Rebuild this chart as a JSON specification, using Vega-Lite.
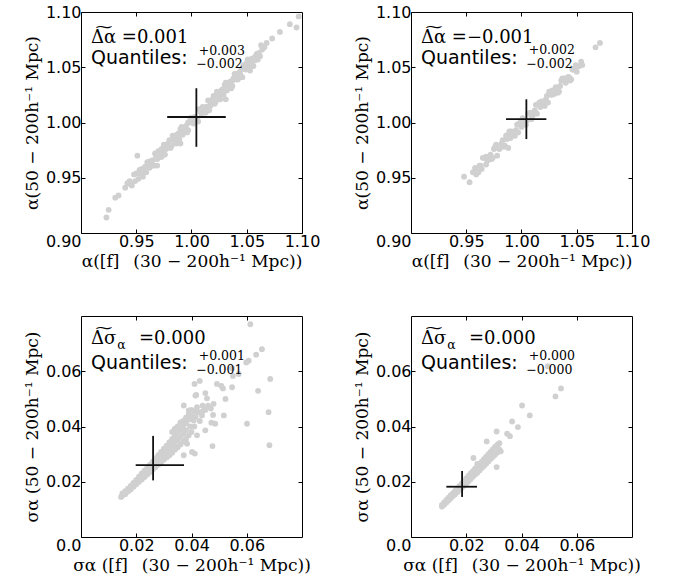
{
"$schema":"https://vega.github.io/schema/vega-lite/v6.json",
"background":"white",
"padding":{"left":22,"top":3,"right":0,"bottom":0},
"bounds":"flush",
"columns":2,
"spacing":{"row":83,"column":109},
"config":{
 "view":{"stroke":"#000","strokeWidth":1},
 "axis":{"grid":false,"domain":false,"tickColor":"#000","tickSize":-4,"tickWidth":1,"labelFont":"DejaVu Sans","labelFontSize":16,"labelColor":"#000","labelPadding":4,"titleFont":"DejaVu Serif","titleFontSize":17,"titleFontWeight":"normal","titleColor":"#000"}
},
"concat":[
{"width":221,"height":221,"layer":[
 {"data":{"values":[
  {"x":0.923,"y":0.914},{"x":0.925,"y":0.921},{"x":0.931,"y":0.932},{"x":0.934,"y":0.934},{"x":0.940,"y":0.941},{"x":0.942,"y":0.945},{"x":0.944,"y":0.947},{"x":0.946,"y":0.943},{"x":0.948,"y":0.953},{"x":0.951,"y":0.970},{"x":0.957,"y":0.956},{"x":0.969,"y":0.961},{"x":0.990,"y":0.981},{"x":1.031,"y":1.021},
  {"x":0.945,"y":0.944},{"x":0.949,"y":0.947},{"x":0.955,"y":0.958},{"x":0.953,"y":0.957},{"x":0.959,"y":0.955},
  {"x":0.950,"y":0.954},{"x":0.952,"y":0.949},{"x":0.954,"y":0.954},{"x":0.956,"y":0.951},{"x":0.958,"y":0.960},{"x":0.960,"y":0.964},{"x":0.962,"y":0.959},{"x":0.964,"y":0.964},{"x":0.966,"y":0.961},{"x":0.968,"y":0.970},{"x":0.970,"y":0.974},{"x":0.972,"y":0.969},{"x":0.974,"y":0.974},{"x":0.976,"y":0.971},{"x":0.978,"y":0.980},{"x":0.980,"y":0.984},{"x":0.982,"y":0.979},{"x":0.984,"y":0.984},{"x":0.986,"y":0.981},{"x":0.988,"y":0.990},{"x":0.990,"y":0.994},{"x":0.992,"y":0.989},{"x":0.994,"y":0.994},{"x":0.996,"y":0.991},{"x":0.998,"y":1.000},{"x":1.000,"y":1.004},{"x":1.002,"y":0.999},{"x":1.004,"y":1.004},{"x":1.006,"y":1.001},{"x":1.008,"y":1.010},{"x":1.010,"y":1.014},{"x":1.012,"y":1.009},{"x":1.014,"y":1.014},{"x":1.016,"y":1.011},{"x":1.018,"y":1.020},{"x":1.020,"y":1.024},{"x":1.022,"y":1.019},{"x":1.024,"y":1.024},{"x":1.026,"y":1.021},{"x":1.028,"y":1.030},{"x":1.030,"y":1.034},{"x":1.032,"y":1.029},{"x":1.034,"y":1.034},{"x":1.036,"y":1.031},{"x":1.038,"y":1.040},{"x":1.040,"y":1.044},{"x":1.042,"y":1.039},{"x":1.044,"y":1.044},{"x":1.046,"y":1.041},{"x":1.048,"y":1.050},{"x":1.050,"y":1.054},{"x":1.052,"y":1.049},{"x":1.054,"y":1.054},{"x":1.056,"y":1.051},{"x":1.058,"y":1.060},
  {"x":0.961,"y":0.960},{"x":0.963,"y":0.965},{"x":0.965,"y":0.961},{"x":0.967,"y":0.972},{"x":0.969,"y":0.968},{"x":0.971,"y":0.973},{"x":0.973,"y":0.969},{"x":0.975,"y":0.980},{"x":0.977,"y":0.976},{"x":0.979,"y":0.981},{"x":0.981,"y":0.977},{"x":0.983,"y":0.988},{"x":0.985,"y":0.984},{"x":0.987,"y":0.989},{"x":0.989,"y":0.985},{"x":0.991,"y":0.996},{"x":0.993,"y":0.992},{"x":0.995,"y":0.997},{"x":0.997,"y":0.993},{"x":0.999,"y":1.004},{"x":1.001,"y":1.000},{"x":1.003,"y":1.005},{"x":1.005,"y":1.001},{"x":1.007,"y":1.012},{"x":1.009,"y":1.008},{"x":1.011,"y":1.013},{"x":1.013,"y":1.009},{"x":1.015,"y":1.020},{"x":1.017,"y":1.016},{"x":1.019,"y":1.021},{"x":1.021,"y":1.017},{"x":1.023,"y":1.028},{"x":1.025,"y":1.024},{"x":1.027,"y":1.029},{"x":1.029,"y":1.025},{"x":1.031,"y":1.036},{"x":1.033,"y":1.032},{"x":1.035,"y":1.037},{"x":1.037,"y":1.033},{"x":1.039,"y":1.044},{"x":1.041,"y":1.040},{"x":1.043,"y":1.045},{"x":1.045,"y":1.041},{"x":1.047,"y":1.052},{"x":1.049,"y":1.048},
  {"x":0.953,"y":0.954},{"x":0.957,"y":0.955},{"x":0.961,"y":0.964},{"x":0.965,"y":0.966},{"x":0.969,"y":0.967},{"x":0.973,"y":0.976},{"x":0.977,"y":0.978},{"x":0.981,"y":0.979},{"x":0.985,"y":0.988},{"x":0.989,"y":0.990},{"x":0.993,"y":0.991},{"x":0.997,"y":1.000},{"x":1.001,"y":1.002},{"x":1.005,"y":1.003},{"x":1.009,"y":1.012},{"x":1.013,"y":1.014},{"x":1.017,"y":1.015},{"x":1.021,"y":1.024},{"x":1.025,"y":1.026},{"x":1.029,"y":1.027},{"x":1.033,"y":1.036},{"x":1.037,"y":1.038},{"x":1.041,"y":1.039},{"x":1.045,"y":1.048},{"x":1.049,"y":1.050},{"x":1.053,"y":1.051},
  {"x":1.057,"y":1.056},{"x":1.059,"y":1.062},{"x":1.062,"y":1.060},{"x":1.064,"y":1.066},{"x":1.055,"y":1.058},{"x":1.051,"y":1.057},{"x":1.053,"y":1.047},
  {"x":1.060,"y":1.057},{"x":1.061,"y":1.063},{"x":1.063,"y":1.070},{"x":1.066,"y":1.068},{"x":1.068,"y":1.072},{"x":1.073,"y":1.076},{"x":1.080,"y":1.082},{"x":1.089,"y":1.089},{"x":1.095,"y":1.086},{"x":1.097,"y":1.096}
 ]},
 "mark":{"type":"circle","size":34,"color":"#d0d0d0","opacity":1},
 "encoding":{
  "x":{"field":"x","type":"quantitative","scale":{"domain":[0.9,1.1],"nice":false,"zero":false},"axis":{"orient":"bottom","values":[0.9,0.95,1.0,1.05,1.1],"format":".2f","title":"α([f]\u2002 (30 − 200h⁻¹ Mpc))","labelAlign":{"condition":{"test":"datum.value < 0.91","value":"right"},"value":"center"}}},
  "y":{"field":"y","type":"quantitative","scale":{"domain":[0.9,1.1],"nice":false,"zero":false},"axis":{"orient":"left","values":[0.95,1.0,1.05,1.1],"format":".2f","title":"α(50 − 200h⁻¹ Mpc)"}}
 }},
 {"data":{"values":[{"cy":1.005,"xlo":0.978,"xhi":1.031}]},
  "mark":{"type":"rule","color":"#111","strokeWidth":1.8},
  "encoding":{"x":{"field":"xlo","type":"quantitative","scale":{"domain":[0.9,1.1],"nice":false,"zero":false},"axis":{"orient":"top","labels":false,"title":null,"values":[0.95,1.0,1.05]}},"x2":{"field":"xhi"},"y":{"field":"cy","type":"quantitative","scale":{"domain":[0.9,1.1],"nice":false,"zero":false},"axis":null}}},
 {"data":{"values":[{"cx":1.0044,"ylo":0.978,"yhi":1.031}]},
  "mark":{"type":"rule","color":"#111","strokeWidth":1.8},
  "encoding":{"x":{"field":"cx","type":"quantitative","scale":{"domain":[0.9,1.1],"nice":false,"zero":false},"axis":null},"y":{"field":"ylo","type":"quantitative","scale":{"domain":[0.9,1.1],"nice":false,"zero":false},"axis":{"orient":"right","labels":false,"title":null,"values":[0.95,1.0,1.05]}},"y2":{"field":"yhi"}}},
 {"data":{"values":[{"x":0.909,"y":1.0722,"t":"Δ͠α =0.001"}]},
  "mark":{"type":"text","font":"DejaVu Serif","fontSize":18,"align":"left","baseline":"alphabetic","color":"#000"},
  "encoding":{"x":{"field":"x","type":"quantitative","scale":{"domain":[0.9,1.1],"nice":false,"zero":false},"axis":null},"y":{"field":"y","type":"quantitative","scale":{"domain":[0.9,1.1],"nice":false,"zero":false},"axis":null},"text":{"field":"t"}}},
 {"data":{"values":[{"x":0.909,"y":1.0532,"t":"Quantiles:"}]},
  "mark":{"type":"text","font":"DejaVu Sans","fontSize":19,"align":"left","baseline":"alphabetic","color":"#000"},
  "encoding":{"x":{"field":"x","type":"quantitative","scale":{"domain":[0.9,1.1],"nice":false,"zero":false},"axis":null},"y":{"field":"y","type":"quantitative","scale":{"domain":[0.9,1.1],"nice":false,"zero":false},"axis":null},"text":{"field":"t"}}},
 {"data":{"values":[{"x":1.0065,"y":1.0614,"t":"+0.003"},{"x":1.0044,"y":1.0490,"t":"−0.002"}]},
  "mark":{"type":"text","font":"DejaVu Serif","fontSize":12.5,"align":"left","baseline":"alphabetic","color":"#000"},
  "encoding":{"x":{"field":"x","type":"quantitative","scale":{"domain":[0.9,1.1],"nice":false,"zero":false},"axis":null},"y":{"field":"y","type":"quantitative","scale":{"domain":[0.9,1.1],"nice":false,"zero":false},"axis":null},"text":{"field":"t"}}}
]},
{"width":221,"height":221,"layer":[
 {"data":{"values":[
  {"x":0.948,"y":0.951},{"x":0.953,"y":0.946},{"x":0.956,"y":0.955},{"x":0.959,"y":0.953},{"x":0.968,"y":0.962},{"x":0.978,"y":0.970},{"x":0.988,"y":0.977},
  {"x":0.958,"y":0.959},{"x":0.960,"y":0.956},{"x":0.962,"y":0.961},{"x":0.964,"y":0.958},{"x":0.966,"y":0.968},{"x":0.968,"y":0.969},{"x":0.970,"y":0.966},{"x":0.972,"y":0.971},{"x":0.974,"y":0.968},{"x":0.976,"y":0.978},{"x":0.978,"y":0.979},{"x":0.980,"y":0.976},{"x":0.982,"y":0.981},{"x":0.984,"y":0.978},{"x":0.986,"y":0.988},{"x":0.988,"y":0.989},{"x":0.990,"y":0.986},{"x":0.992,"y":0.991},{"x":0.994,"y":0.988},{"x":0.996,"y":0.998},{"x":0.998,"y":0.999},{"x":1.000,"y":0.996},{"x":1.002,"y":1.001},{"x":1.004,"y":0.998},{"x":1.006,"y":1.008},{"x":1.008,"y":1.009},{"x":1.010,"y":1.006},{"x":1.012,"y":1.011},{"x":1.014,"y":1.008},{"x":1.016,"y":1.018},{"x":1.018,"y":1.019},{"x":1.020,"y":1.016},{"x":1.022,"y":1.021},{"x":1.024,"y":1.018},{"x":1.026,"y":1.028},{"x":1.028,"y":1.029},{"x":1.030,"y":1.026},{"x":1.032,"y":1.031},{"x":1.034,"y":1.028},{"x":1.036,"y":1.038},{"x":1.038,"y":1.039},{"x":1.040,"y":1.036},{"x":1.042,"y":1.041},{"x":1.044,"y":1.038},{"x":1.046,"y":1.048},{"x":1.048,"y":1.049},{"x":1.050,"y":1.046},{"x":1.052,"y":1.051},
  {"x":0.963,"y":0.961},{"x":0.967,"y":0.968},{"x":0.971,"y":0.969},{"x":0.975,"y":0.976},{"x":0.979,"y":0.977},{"x":0.983,"y":0.984},{"x":0.987,"y":0.985},{"x":0.991,"y":0.992},{"x":0.995,"y":0.993},{"x":0.999,"y":1.000},{"x":1.003,"y":1.001},{"x":1.007,"y":1.008},{"x":1.011,"y":1.009},{"x":1.015,"y":1.016},{"x":1.019,"y":1.017},{"x":1.023,"y":1.024},{"x":1.027,"y":1.025},{"x":1.031,"y":1.032},{"x":1.035,"y":1.033},{"x":1.039,"y":1.040},{"x":1.043,"y":1.041},{"x":1.047,"y":1.048},
  {"x":0.961,"y":0.955},{"x":0.965,"y":0.968},{"x":0.969,"y":0.966},{"x":0.973,"y":0.967},{"x":0.977,"y":0.980},{"x":0.981,"y":0.978},{"x":0.985,"y":0.979},{"x":0.989,"y":0.992},{"x":0.993,"y":0.990},{"x":0.997,"y":0.991},{"x":1.001,"y":1.004},{"x":1.005,"y":1.002},{"x":1.009,"y":1.003},{"x":1.013,"y":1.016},{"x":1.017,"y":1.014},{"x":1.021,"y":1.015},{"x":1.025,"y":1.028},{"x":1.029,"y":1.026},{"x":1.033,"y":1.027},{"x":1.037,"y":1.040},{"x":1.041,"y":1.038},{"x":1.045,"y":1.039},{"x":1.049,"y":1.052},
  {"x":1.054,"y":1.055},{"x":1.055,"y":1.052},{"x":1.067,"y":1.068},{"x":1.071,"y":1.072}
 ]},
 "mark":{"type":"circle","size":34,"color":"#d0d0d0","opacity":1},
 "encoding":{
  "x":{"field":"x","type":"quantitative","scale":{"domain":[0.9,1.1],"nice":false,"zero":false},"axis":{"orient":"bottom","values":[0.9,0.95,1.0,1.05,1.1],"format":".2f","title":"α([f]\u2002 (30 − 200h⁻¹ Mpc))","labelAlign":{"condition":{"test":"datum.value < 0.91","value":"right"},"value":"center"}}},
  "y":{"field":"y","type":"quantitative","scale":{"domain":[0.9,1.1],"nice":false,"zero":false},"axis":{"orient":"left","values":[0.95,1.0,1.05,1.1],"format":".2f","title":"α(50 − 200h⁻¹ Mpc)"}}
 }},
 {"data":{"values":[{"cy":1.003,"xlo":0.986,"xhi":1.0225}]},
  "mark":{"type":"rule","color":"#111","strokeWidth":1.8},
  "encoding":{"x":{"field":"xlo","type":"quantitative","scale":{"domain":[0.9,1.1],"nice":false,"zero":false},"axis":{"orient":"top","labels":false,"title":null,"values":[0.95,1.0,1.05]}},"x2":{"field":"xhi"},"y":{"field":"cy","type":"quantitative","scale":{"domain":[0.9,1.1],"nice":false,"zero":false},"axis":null}}},
 {"data":{"values":[{"cx":1.0044,"ylo":0.985,"yhi":1.021}]},
  "mark":{"type":"rule","color":"#111","strokeWidth":1.8},
  "encoding":{"x":{"field":"cx","type":"quantitative","scale":{"domain":[0.9,1.1],"nice":false,"zero":false},"axis":null},"y":{"field":"ylo","type":"quantitative","scale":{"domain":[0.9,1.1],"nice":false,"zero":false},"axis":{"orient":"right","labels":false,"title":null,"values":[0.95,1.0,1.05]}},"y2":{"field":"yhi"}}},
 {"data":{"values":[{"x":0.909,"y":1.0722,"t":"Δ͠α =−0.001"}]},
  "mark":{"type":"text","font":"DejaVu Serif","fontSize":18,"align":"left","baseline":"alphabetic","color":"#000"},
  "encoding":{"x":{"field":"x","type":"quantitative","scale":{"domain":[0.9,1.1],"nice":false,"zero":false},"axis":null},"y":{"field":"y","type":"quantitative","scale":{"domain":[0.9,1.1],"nice":false,"zero":false},"axis":null},"text":{"field":"t"}}},
 {"data":{"values":[{"x":0.909,"y":1.0532,"t":"Quantiles:"}]},
  "mark":{"type":"text","font":"DejaVu Sans","fontSize":19,"align":"left","baseline":"alphabetic","color":"#000"},
  "encoding":{"x":{"field":"x","type":"quantitative","scale":{"domain":[0.9,1.1],"nice":false,"zero":false},"axis":null},"y":{"field":"y","type":"quantitative","scale":{"domain":[0.9,1.1],"nice":false,"zero":false},"axis":null},"text":{"field":"t"}}},
 {"data":{"values":[{"x":1.0065,"y":1.0617,"t":"+0.002"},{"x":1.0044,"y":1.0495,"t":"−0.002"}]},
  "mark":{"type":"text","font":"DejaVu Serif","fontSize":12.5,"align":"left","baseline":"alphabetic","color":"#000"},
  "encoding":{"x":{"field":"x","type":"quantitative","scale":{"domain":[0.9,1.1],"nice":false,"zero":false},"axis":null},"y":{"field":"y","type":"quantitative","scale":{"domain":[0.9,1.1],"nice":false,"zero":false},"axis":null},"text":{"field":"t"}}}
]},
{"width":221,"height":221,"layer":[
 {"data":{"values":[
  {"x":0.0145,"y":0.0145},{"x":0.015,"y":0.0150},{"x":0.015,"y":0.0158},{"x":0.016,"y":0.0155},{"x":0.016,"y":0.0166},{"x":0.017,"y":0.0165},{"x":0.017,"y":0.0175},{"x":0.018,"y":0.0172},{"x":0.018,"y":0.0185},
  {"x":0.019,"y":0.0182},{"x":0.019,"y":0.0196},{"x":0.019,"y":0.0189},{"x":0.020,"y":0.0191},{"x":0.020,"y":0.0207},{"x":0.020,"y":0.0200},{"x":0.021,"y":0.0200},{"x":0.021,"y":0.0218},{"x":0.021,"y":0.0210},{"x":0.022,"y":0.0208},{"x":0.022,"y":0.0230},{"x":0.022,"y":0.0220},{"x":0.023,"y":0.0217},{"x":0.023,"y":0.0240},{"x":0.023,"y":0.0228},{"x":0.024,"y":0.0226},{"x":0.024,"y":0.0252},{"x":0.024,"y":0.0238},{"x":0.025,"y":0.0235},{"x":0.025,"y":0.0262},{"x":0.025,"y":0.0249},{"x":0.026,"y":0.0245},{"x":0.026,"y":0.0273},{"x":0.026,"y":0.0258},{"x":0.027,"y":0.0253},{"x":0.027,"y":0.0285},{"x":0.027,"y":0.0268},{"x":0.028,"y":0.0262},{"x":0.028,"y":0.0296},{"x":0.028,"y":0.0279},{"x":0.029,"y":0.0270},{"x":0.029,"y":0.0308},{"x":0.029,"y":0.0289},{"x":0.030,"y":0.0280},{"x":0.030,"y":0.0320},{"x":0.030,"y":0.0300},{"x":0.031,"y":0.0288},{"x":0.031,"y":0.0331},{"x":0.031,"y":0.0310},{"x":0.032,"y":0.0296},{"x":0.032,"y":0.0343},{"x":0.032,"y":0.0320},{"x":0.033,"y":0.0305},{"x":0.033,"y":0.0355},{"x":0.033,"y":0.0331},{"x":0.034,"y":0.0316},{"x":0.034,"y":0.0366},{"x":0.034,"y":0.0342},{"x":0.035,"y":0.0325},{"x":0.035,"y":0.0378},{"x":0.035,"y":0.0352},{"x":0.036,"y":0.0335},{"x":0.036,"y":0.0390},{"x":0.036,"y":0.0363},{"x":0.037,"y":0.0345},{"x":0.037,"y":0.0401},{"x":0.037,"y":0.0373},{"x":0.038,"y":0.0355},{"x":0.038,"y":0.0412},{"x":0.038,"y":0.0386},{"x":0.039,"y":0.0368},{"x":0.039,"y":0.0425},{"x":0.040,"y":0.0380},{"x":0.040,"y":0.0438},
  {"x":0.033,"y":0.0380},{"x":0.035,"y":0.0400},{"x":0.037,"y":0.0420},{"x":0.039,"y":0.0445},{"x":0.041,"y":0.0455},{"x":0.036,"y":0.0415},{"x":0.034,"y":0.0392},{"x":0.038,"y":0.0432},{"x":0.042,"y":0.0470},{"x":0.040,"y":0.0460},{"x":0.044,"y":0.0475},{"x":0.0395,"y":0.0400},{"x":0.041,"y":0.0400},{"x":0.043,"y":0.0420},{"x":0.0415,"y":0.0435},{"x":0.045,"y":0.0460},{"x":0.046,"y":0.0475},{"x":0.044,"y":0.0455},{"x":0.047,"y":0.0465},
  {"x":0.0613,"y":0.0770},{"x":0.0655,"y":0.0680},{"x":0.0634,"y":0.0660},{"x":0.0607,"y":0.0638},{"x":0.0598,"y":0.0632},{"x":0.0685,"y":0.0572},{"x":0.0571,"y":0.0590},{"x":0.0547,"y":0.0611},{"x":0.0492,"y":0.0554},{"x":0.0514,"y":0.0538},{"x":0.0547,"y":0.0542},{"x":0.0523,"y":0.0500},{"x":0.0411,"y":0.0554},{"x":0.0414,"y":0.0512},{"x":0.0450,"y":0.0521},{"x":0.0456,"y":0.0502},{"x":0.0480,"y":0.0482},{"x":0.0478,"y":0.0442},{"x":0.0486,"y":0.0410},{"x":0.0517,"y":0.0440},{"x":0.0679,"y":0.0452},{"x":0.0601,"y":0.0410},{"x":0.0682,"y":0.0332},{"x":0.0450,"y":0.0386},{"x":0.0420,"y":0.0368},{"x":0.0384,"y":0.0338},{"x":0.0402,"y":0.0308},{"x":0.0372,"y":0.0296},{"x":0.0372,"y":0.0476},{"x":0.0390,"y":0.0458},{"x":0.0426,"y":0.0452},{"x":0.0438,"y":0.0440},{"x":0.0408,"y":0.0422},{"x":0.0641,"y":0.0529},{"x":0.0550,"y":0.0583},{"x":0.0508,"y":0.0547},{"x":0.0472,"y":0.0414},{"x":0.0476,"y":0.0329},{"x":0.0412,"y":0.0302},{"x":0.0430,"y":0.0565},{"x":0.0417,"y":0.0514}
 ]},
 "mark":{"type":"circle","size":34,"color":"#d0d0d0","opacity":1},
 "encoding":{
  "x":{"field":"x","type":"quantitative","scale":{"domain":[0,0.08],"nice":false,"zero":false},"axis":{"orient":"bottom","values":[0,0.02,0.04,0.06],"labelExpr":"datum.value == 0 ? '0.0' : format(datum.value, '.2f')","title":"σα ([f]\u2002 (30 − 200h⁻¹ Mpc))","labelAlign":{"condition":{"test":"datum.value < 0.001","value":"right"},"value":"center"}}},
  "y":{"field":"y","type":"quantitative","scale":{"domain":[0,0.08],"nice":false,"zero":false},"axis":{"orient":"left","values":[0.02,0.04,0.06],"format":".2f","title":"σα (50 − 200h⁻¹ Mpc)"}}
 }},
 {"data":{"values":[{"cy":0.0260,"xlo":0.0198,"xhi":0.0373}]},
  "mark":{"type":"rule","color":"#111","strokeWidth":1.8},
  "encoding":{"x":{"field":"xlo","type":"quantitative","scale":{"domain":[0,0.08],"nice":false,"zero":false},"axis":{"orient":"top","labels":false,"title":null,"values":[0.02,0.04,0.06]}},"x2":{"field":"xhi"},"y":{"field":"cy","type":"quantitative","scale":{"domain":[0,0.08],"nice":false,"zero":false},"axis":null}}},
 {"data":{"values":[{"cx":0.0261,"ylo":0.0205,"yhi":0.0366}]},
  "mark":{"type":"rule","color":"#111","strokeWidth":1.8},
  "encoding":{"x":{"field":"cx","type":"quantitative","scale":{"domain":[0,0.08],"nice":false,"zero":false},"axis":null},"y":{"field":"ylo","type":"quantitative","scale":{"domain":[0,0.08],"nice":false,"zero":false},"axis":{"orient":"right","labels":false,"title":null,"values":[0.02,0.04,0.06]}},"y2":{"field":"yhi"}}},
 {"data":{"values":[{"x":0.00362,"y":0.06975,"t":"Δ͠σ"},{"x":0.0210,"y":0.06975,"t":"=0.000"}]},
  "mark":{"type":"text","font":"DejaVu Serif","fontSize":18,"align":"left","baseline":"alphabetic","color":"#000"},
  "encoding":{"x":{"field":"x","type":"quantitative","scale":{"domain":[0,0.08],"nice":false,"zero":false},"axis":null},"y":{"field":"y","type":"quantitative","scale":{"domain":[0,0.08],"nice":false,"zero":false},"axis":null},"text":{"field":"t"}}},
 {"data":{"values":[{"x":0.00362,"y":0.0607,"t":"Quantiles:"}]},
  "mark":{"type":"text","font":"DejaVu Sans","fontSize":19,"align":"left","baseline":"alphabetic","color":"#000"},
  "encoding":{"x":{"field":"x","type":"quantitative","scale":{"domain":[0,0.08],"nice":false,"zero":false},"axis":null},"y":{"field":"y","type":"quantitative","scale":{"domain":[0,0.08],"nice":false,"zero":false},"axis":null},"text":{"field":"t"}}},
 {"data":{"values":[{"x":0.0131,"y":0.0679,"t":"α"},{"x":0.0426,"y":0.0640,"t":"+0.001"},{"x":0.0417,"y":0.0589,"t":"−0.001"}]},
  "mark":{"type":"text","font":"DejaVu Serif","fontSize":12.5,"align":"left","baseline":"alphabetic","color":"#000"},
  "encoding":{"x":{"field":"x","type":"quantitative","scale":{"domain":[0,0.08],"nice":false,"zero":false},"axis":null},"y":{"field":"y","type":"quantitative","scale":{"domain":[0,0.08],"nice":false,"zero":false},"axis":null},"text":{"field":"t"}}}
]},
{"width":221,"height":221,"layer":[
 {"data":{"values":[
  {"x":0.0112,"y":0.0110},{"x":0.0112,"y":0.0116},{"x":0.0120,"y":0.0117},{"x":0.0120,"y":0.0125},{"x":0.0128,"y":0.0125},{"x":0.0128,"y":0.0134},{"x":0.0136,"y":0.0132},{"x":0.0136,"y":0.0142},{"x":0.0144,"y":0.0140},{"x":0.0144,"y":0.0151},{"x":0.0152,"y":0.0148},{"x":0.0152,"y":0.0159},{"x":0.0160,"y":0.0155},{"x":0.0160,"y":0.0168},{"x":0.0168,"y":0.0163},{"x":0.0168,"y":0.0176},{"x":0.0176,"y":0.0171},{"x":0.0176,"y":0.0185},{"x":0.0184,"y":0.0178},{"x":0.0184,"y":0.0194},{"x":0.0192,"y":0.0186},{"x":0.0192,"y":0.0203},{"x":0.0200,"y":0.0194},{"x":0.0200,"y":0.0212},{"x":0.0208,"y":0.0201},{"x":0.0208,"y":0.0221},{"x":0.0216,"y":0.0210},{"x":0.0216,"y":0.0230},{"x":0.0224,"y":0.0218},{"x":0.0224,"y":0.0238},{"x":0.0232,"y":0.0226},{"x":0.0232,"y":0.0247},{"x":0.0240,"y":0.0233},{"x":0.0240,"y":0.0256},{"x":0.0248,"y":0.0241},{"x":0.0248,"y":0.0265},{"x":0.0256,"y":0.0250},{"x":0.0256,"y":0.0273},{"x":0.0264,"y":0.0257},{"x":0.0264,"y":0.0282},{"x":0.0272,"y":0.0265},{"x":0.0272,"y":0.0291},{"x":0.0280,"y":0.0273},{"x":0.0280,"y":0.0300},{"x":0.0288,"y":0.0282},{"x":0.0288,"y":0.0308},{"x":0.0296,"y":0.0290},{"x":0.0296,"y":0.0317},{"x":0.0304,"y":0.0298},{"x":0.0304,"y":0.0326},{"x":0.0312,"y":0.0306},{"x":0.0312,"y":0.0333},{"x":0.0320,"y":0.0316},{"x":0.0320,"y":0.0340},
  {"x":0.0543,"y":0.0538},{"x":0.0523,"y":0.0509},{"x":0.0402,"y":0.0476},{"x":0.0430,"y":0.0440},{"x":0.0366,"y":0.0418},{"x":0.0387,"y":0.0398},{"x":0.0310,"y":0.0382},{"x":0.0348,"y":0.0374},{"x":0.0358,"y":0.0365},{"x":0.0274,"y":0.0346},{"x":0.0318,"y":0.0338},{"x":0.0226,"y":0.0286},{"x":0.0310,"y":0.0253},{"x":0.0495,"y":0.0618},{"x":0.0325,"y":0.0310},{"x":0.0240,"y":0.0265}
 ]},
 "mark":{"type":"circle","size":34,"color":"#d0d0d0","opacity":1},
 "encoding":{
  "x":{"field":"x","type":"quantitative","scale":{"domain":[0,0.08],"nice":false,"zero":false},"axis":{"orient":"bottom","values":[0,0.02,0.04,0.06],"labelExpr":"datum.value == 0 ? '0.0' : format(datum.value, '.2f')","title":"σα ([f]\u2002 (30 − 200h⁻¹ Mpc))","labelAlign":{"condition":{"test":"datum.value < 0.001","value":"right"},"value":"center"}}},
  "y":{"field":"y","type":"quantitative","scale":{"domain":[0,0.08],"nice":false,"zero":false},"axis":{"orient":"left","values":[0.02,0.04,0.06],"format":".2f","title":"σα (50 − 200h⁻¹ Mpc)"}}
 }},
 {"data":{"values":[{"cy":0.0182,"xlo":0.0128,"xhi":0.0239}]},
  "mark":{"type":"rule","color":"#111","strokeWidth":1.8},
  "encoding":{"x":{"field":"xlo","type":"quantitative","scale":{"domain":[0,0.08],"nice":false,"zero":false},"axis":{"orient":"top","labels":false,"title":null,"values":[0.02,0.04,0.06]}},"x2":{"field":"xhi"},"y":{"field":"cy","type":"quantitative","scale":{"domain":[0,0.08],"nice":false,"zero":false},"axis":null}}},
 {"data":{"values":[{"cx":0.0185,"ylo":0.0145,"yhi":0.0239}]},
  "mark":{"type":"rule","color":"#111","strokeWidth":1.8},
  "encoding":{"x":{"field":"cx","type":"quantitative","scale":{"domain":[0,0.08],"nice":false,"zero":false},"axis":null},"y":{"field":"ylo","type":"quantitative","scale":{"domain":[0,0.08],"nice":false,"zero":false},"axis":{"orient":"right","labels":false,"title":null,"values":[0.02,0.04,0.06]}},"y2":{"field":"yhi"}}},
 {"data":{"values":[{"x":0.00362,"y":0.06975,"t":"Δ͠σ"},{"x":0.0210,"y":0.06975,"t":"=0.000"}]},
  "mark":{"type":"text","font":"DejaVu Serif","fontSize":18,"align":"left","baseline":"alphabetic","color":"#000"},
  "encoding":{"x":{"field":"x","type":"quantitative","scale":{"domain":[0,0.08],"nice":false,"zero":false},"axis":null},"y":{"field":"y","type":"quantitative","scale":{"domain":[0,0.08],"nice":false,"zero":false},"axis":null},"text":{"field":"t"}}},
 {"data":{"values":[{"x":0.00362,"y":0.0607,"t":"Quantiles:"}]},
  "mark":{"type":"text","font":"DejaVu Sans","fontSize":19,"align":"left","baseline":"alphabetic","color":"#000"},
  "encoding":{"x":{"field":"x","type":"quantitative","scale":{"domain":[0,0.08],"nice":false,"zero":false},"axis":null},"y":{"field":"y","type":"quantitative","scale":{"domain":[0,0.08],"nice":false,"zero":false},"axis":null},"text":{"field":"t"}}},
 {"data":{"values":[{"x":0.0131,"y":0.0679,"t":"α"},{"x":0.0426,"y":0.0640,"t":"+0.000"},{"x":0.0417,"y":0.0589,"t":"−0.000"}]},
  "mark":{"type":"text","font":"DejaVu Serif","fontSize":12.5,"align":"left","baseline":"alphabetic","color":"#000"},
  "encoding":{"x":{"field":"x","type":"quantitative","scale":{"domain":[0,0.08],"nice":false,"zero":false},"axis":null},"y":{"field":"y","type":"quantitative","scale":{"domain":[0,0.08],"nice":false,"zero":false},"axis":null},"text":{"field":"t"}}}
]}
]
}
